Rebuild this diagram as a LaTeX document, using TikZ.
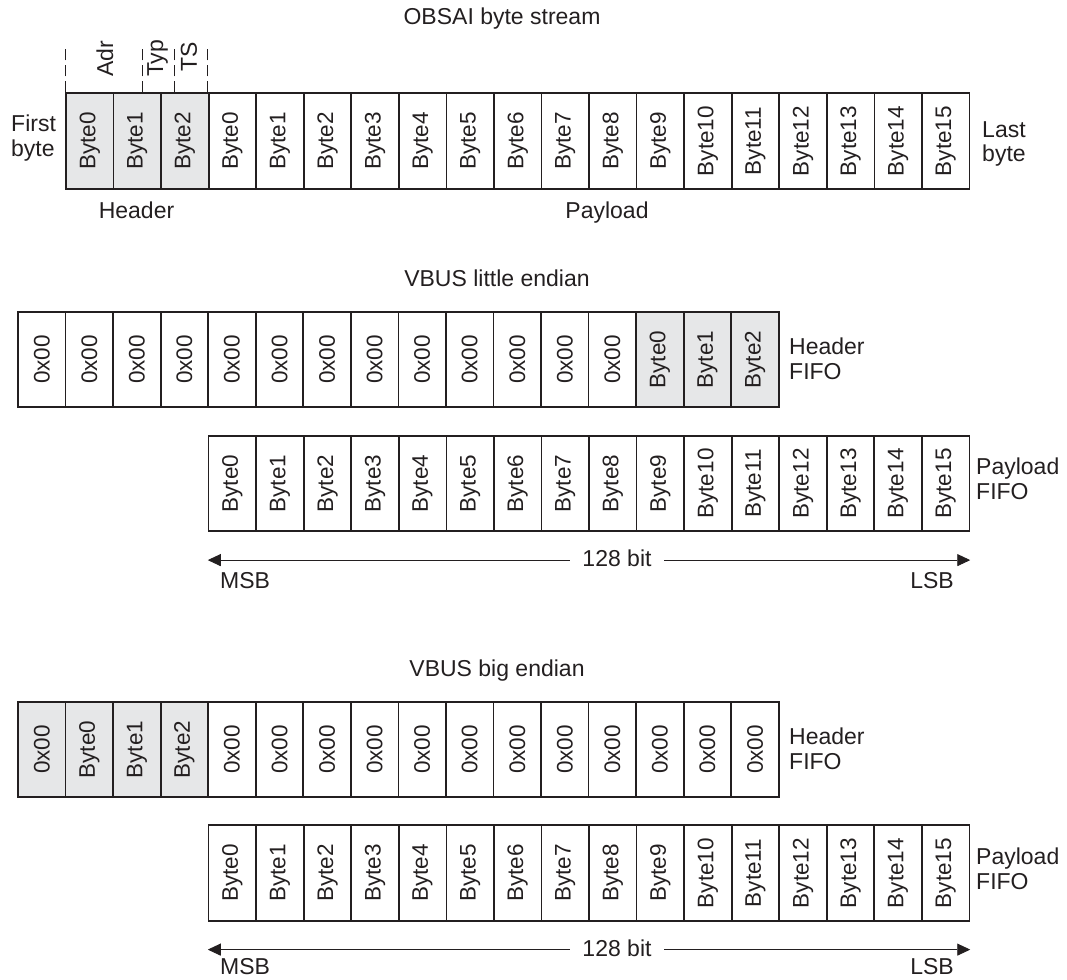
\documentclass[tikz,border=0pt]{standalone}
\usepackage{fontspec}
\setmainfont{Liberation Sans}
\usepackage{graphicx}
\usetikzlibrary{arrows.meta,calc}
\definecolor{ink}{HTML}{231F20}
\definecolor{hdrgray}{HTML}{E6E7E8}
\begin{document}
\begin{tikzpicture}[x=1pt,y=-1pt,
  every node/.style={text=ink},
  txt/.style={font=\fontsize{23}{24.5}\selectfont, inner sep=0pt},
  cell/.style={draw=ink, line width=1.7pt, minimum width=47.55pt, minimum height=95.5pt,
    inner sep=0pt, font=\fontsize{22.5}{24}\selectfont},
  hdr/.style={fill=hdrgray},
  dashline/.style={draw=ink, line width=0.8pt, dash pattern=on 11pt off 5pt},
  dimarrow/.style={draw=ink, line width=0.9pt, {Triangle[length=13pt,width=12pt]}-{Triangle[length=13pt,width=12pt]}}
]
\useasboundingbox (0,0) rectangle (1067,979);

% ---------------- OBSAI byte stream ----------------
\node[txt, anchor=base] (t1) at (502,25) {OBSAI byte stream};
\foreach \i in {0,1,2}
  \node[cell,hdr] (r1h\i) at ({66+(\i+0.5)*47.55},141) {\rotatebox{90}{Byte\i}};
\foreach \i in {0,...,15}
  \node[cell] (r1p\i) at ({66+(\i+3.5)*47.55},141) {\rotatebox{90}{Byte\i}};

\coordinate (dA) at ($(r1h1.north west)!0.6!(r1h1.north east)$);
\coordinate (dB) at ($(r1h2.north west)!0.29!(r1h2.north east)$);
\draw[dashline] (r1h0.north west) -- ++(0,-48);
\draw[dashline] (dA) -- ++(0,-48);
\draw[dashline] (dB) -- ++(0,-48);
\draw[dashline] (r1p0.north west) -- ++(0,-48);

\node[txt, anchor=south] (adr) at (105,77) {\rotatebox{90}{Adr}};
\node[txt, anchor=south] (typ) at (157.5,77) {\rotatebox{90}{Typ}};
\node[txt, anchor=south] (ts) at (189,72) {\rotatebox{90}{TS}};

\node[txt, anchor=west, align=left] (first) at (11,138) {First\\byte};
\node[txt, anchor=west, align=left] (last) at (982,144) {Last\\byte};
\node[txt, anchor=base] (hdrlbl) at (136.5,218) {Header};
\node[txt, anchor=base] (pldlbl) at (607,218) {Payload};

% ---------------- VBUS little endian ----------------
\node[txt, anchor=base] (t2) at (497,286) {VBUS little endian};
\foreach \i in {0,...,12}
  \node[cell] (h2z\i) at ({18+(\i+0.5)*47.55},359.5) {\rotatebox{90}{0x00}};
\foreach \i in {0,1,2}
  \node[cell,hdr] (h2b\i) at ({18+(\i+13.5)*47.55},359.5) {\rotatebox{90}{Byte\i}};
\node[txt, anchor=west, align=left] (hf2) at (789,359) {Header\\FIFO};
\foreach \i in {0,...,15}
  \node[cell] (p2c\i) at ({208.6+(\i+0.5)*47.55},483.5) {\rotatebox{90}{Byte\i}};
\node[txt, anchor=west, align=left] (pf2) at (976,479) {Payload\\FIFO};

\coordinate (m2) at ([yshift=-28pt]p2c0.south west);
\coordinate (l2) at ([yshift=-28pt]p2c15.south east);
\draw[dimarrow] (m2) -- (l2);
\node[txt, anchor=base, fill=white, inner xsep=12pt] (b2) at (617,566) {128 bit};
\node[txt, anchor=base west] (msb2) at (220,588) {MSB};
\node[txt, anchor=base east] (lsb2) at (954,588) {LSB};

% ---------------- VBUS big endian ----------------
\node[txt, anchor=base] (t3) at (497,676) {VBUS big endian};
\node[cell,hdr] (h3a) at ({18+0.5*47.55},749.5) {\rotatebox{90}{0x00}};
\foreach \i in {0,1,2}
  \node[cell,hdr] (h3b\i) at ({18+(\i+1.5)*47.55},749.5) {\rotatebox{90}{Byte\i}};
\foreach \i in {0,...,11}
  \node[cell] (h3z\i) at ({18+(\i+4.5)*47.55},749.5) {\rotatebox{90}{0x00}};
\node[txt, anchor=west, align=left] (hf3) at (789,749) {Header\\FIFO};
\foreach \i in {0,...,15}
  \node[cell] (p3c\i) at ({208.6+(\i+0.5)*47.55},873) {\rotatebox{90}{Byte\i}};
\node[txt, anchor=west, align=left] (pf3) at (976,869) {Payload\\FIFO};

\coordinate (m3) at ([yshift=-28pt]p3c0.south west);
\coordinate (l3) at ([yshift=-28pt]p3c15.south east);
\draw[dimarrow] (m3) -- (l3);
\node[txt, anchor=base, fill=white, inner xsep=12pt] (b3) at (617,956) {128 bit};
\node[txt, anchor=base west] (msb3) at (220,974) {MSB};
\node[txt, anchor=base east] (lsb3) at (954,974) {LSB};
\end{tikzpicture}
\end{document}
